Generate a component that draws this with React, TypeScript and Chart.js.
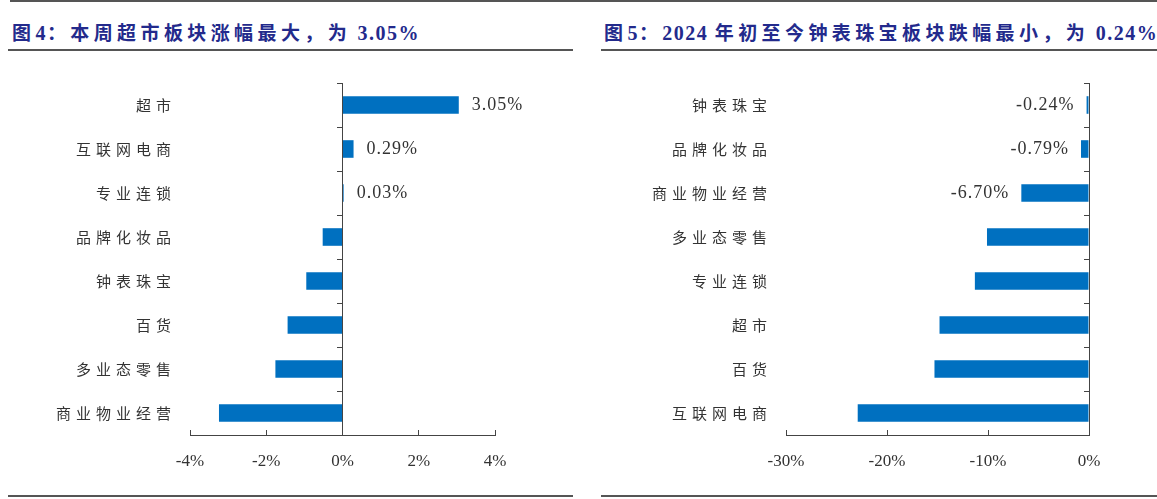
import React, { useEffect, useRef } from 'react';
import { Chart, registerables, CategoryScale } from 'chart.js';

Chart.register(...registerables);

class SpacedCategoryScale extends CategoryScale {
  static id = 'spacedCategory';
  static defaults = CategoryScale.defaults;
  drawLabels(chartArea: any) {
    const ctx: any = this.ctx;
    ctx.save();
    ctx.letterSpacing = '5px';
    super.drawLabels(chartArea);
    ctx.restore();
  }
}
Chart.register(SpacedCategoryScale as any);

// ---------- data ----------
const leftTitle = '图4：本周超市板块涨幅最大，为 3.05%';
const leftCategories = ['超市', '互联网电商', '专业连锁', '品牌化妆品', '钟表珠宝', '百货', '多业态零售', '商业物业经营'];
const leftValues = [3.05, 0.29, 0.03, -0.52, -0.95, -1.44, -1.76, -3.24];
const leftTicks = [-4, -2, 0, 2, 4];
const leftLabelCount = 3;

const rightTitle = '图5：2024 年初至今钟表珠宝板块跌幅最小，为 0.24%';
const rightCategories = ['钟表珠宝', '品牌化妆品', '商业物业经营', '多业态零售', '专业连锁', '超市', '百货', '互联网电商'];
const rightValues = [-0.24, -0.79, -6.7, -10.1, -11.3, -14.8, -15.3, -22.9];
const rightTicks = [-30, -20, -10, 0];
const rightLabelCount = 3;

// ---------- styles ----------
const BAR = '#0070C0';
const AXIS = '#444444';
const TEXT = '#333333';
const TITLE = '#232a8c';
const LINE = '#555555';
const SERIF = '"Liberation Serif", "Times New Roman", serif';
const CJK = '"Noto Sans CJK SC", "Liberation Serif", sans-serif';

const valueLabelPlugin = {
  id: 'valueLabels',
  afterDatasetsDraw(chart: any, _args: any, opts: any) {
    const meta = chart.getDatasetMeta(0);
    const data = chart.data.datasets[0].data as number[];
    const ctx = chart.ctx;
    ctx.save();
    ctx.font = `18px ${SERIF}`;
    (ctx as any).letterSpacing = '1px';
    ctx.fillStyle = TEXT;
    ctx.textBaseline = 'middle';
    meta.data.forEach((bar: any, i: number) => {
      if (i >= (opts.count ?? 0)) return;
      const v = data[i];
      const txt = v.toFixed(2) + '%';
      if (v >= 0) {
        ctx.textAlign = 'left';
        ctx.fillText(txt, bar.x + 13, bar.y);
      } else {
        ctx.textAlign = 'right';
        ctx.fillText(txt, bar.x - 12, bar.y);
      }
    });
    ctx.restore();
  },
};

function makeConfig(cats: string[], vals: number[], ticks: number[], labelCount: number, yWidth: number, padRight: number): any {
  const step = ticks[1] - ticks[0];
  return {
    type: 'bar',
    data: {
      labels: cats,
      datasets: [{ data: vals, backgroundColor: BAR, borderWidth: 0, barPercentage: 0.4, categoryPercentage: 1, yAxisID: 'y' }],
    },
    options: {
      indexAxis: 'y',
      animation: false,
      responsive: false,
      maintainAspectRatio: false,
      layout: { padding: { top: 23, right: padRight, bottom: 0, left: 0 } },
      plugins: {
        legend: { display: false },
        tooltip: { enabled: false },
        valueLabels: { count: labelCount },
      },
      scales: {
        x: {
          type: 'linear',
          position: 'bottom',
          min: ticks[0],
          max: ticks[ticks.length - 1],
          afterBuildTicks: (s: any) => { s.ticks = ticks.map((v) => ({ value: v })); },
          ticks: { stepSize: step, callback: (v: any) => v + '%', font: { family: SERIF, size: 17 }, color: TEXT, padding: 21, maxRotation: 0 },
          grid: { drawOnChartArea: false, drawTicks: true, tickLength: -5, color: AXIS },
          border: { display: true, color: AXIS, width: 1 },
          afterFit: (s: any) => { s.height = 45; },
        },
        y: {
          type: 'spacedCategory',
          position: 'left',
          offset: true,
          ticks: { font: { family: CJK, size: 15 }, color: TEXT, padding: 14 },
          grid: { display: false, drawTicks: false },
          border: { display: false },
          afterFit: (s: any) => { s.width = yWidth; },
        },
        y2: {
          type: 'category',
          axis: 'y',
          position: { x: 0 },
          offset: true,
          ticks: { display: false },
          grid: { offset: true, drawOnChartArea: false, drawTicks: true, tickLength: 5, color: AXIS },
          border: { display: true, color: AXIS, width: 1 },
        },
      },
    },
    plugins: [valueLabelPlugin],
  };
}

function BarChart(props: { left: number; width: number; config: any }) {
  const ref = useRef<HTMLCanvasElement>(null);
  useEffect(() => {
    const chart = new Chart(ref.current as HTMLCanvasElement, props.config);
    return () => chart.destroy();
  }, []);
  return (
    <canvas
      ref={ref}
      width={props.width}
      height={420}
      style={{ position: 'absolute', left: props.left, top: 60, width: props.width, height: 420 }}
    />
  );
}

function Title(props: { text: string; left: number }) {
  const parts: { t: string; cjk: boolean }[] = [];
  for (const ch of props.text) {
    const cjk = /[\u3000-\u9fff\uff00-\uffef]/.test(ch);
    const last = parts[parts.length - 1];
    if (last && last.cjk === cjk) last.t += ch;
    else parts.push({ t: ch, cjk });
  }
  return (
    <div
      style={{
        position: 'absolute', left: props.left, top: 20, height: 24, lineHeight: '24px',
        fontFamily: SERIF + ', "Noto Sans CJK SC"', fontWeight: 'bold', fontSize: 19, color: TITLE, whiteSpace: 'nowrap',
      }}
    >
      {parts.map((p, i) => (
        <span key={i} style={{ letterSpacing: p.cjk ? '4.4px' : '1.5px', fontFamily: p.cjk ? CJK : SERIF, fontSize: p.cjk ? 19 : 20 }}>{p.t}</span>
      ))}
    </div>
  );
}

const line = (left: number, top: number, width: number, height = 2): React.CSSProperties => ({
  position: 'absolute', left, top, width, height, background: LINE,
});

export default function App() {
  return (
    <div style={{ position: 'fixed', left: 0, top: 0, width: 1157, height: 499, background: '#fff', overflow: 'hidden' }}>
      <div style={line(10, 0, 1147)} />
      <Title text={leftTitle} left={12} />
      <Title text={rightTitle} left={604} />
      <div style={line(8, 49, 565)} />
      <div style={line(601, 49, 556)} />
      <BarChart left={0} width={580} config={makeConfig(leftCategories, leftValues, leftTicks, leftLabelCount, 190, 85)} />
      <BarChart left={590} width={567} config={makeConfig(rightCategories, rightValues, rightTicks, rightLabelCount, 196, 68)} />
      <div style={line(8, 495, 565)} />
      <div style={line(601, 495, 556)} />
    </div>
  );
}
